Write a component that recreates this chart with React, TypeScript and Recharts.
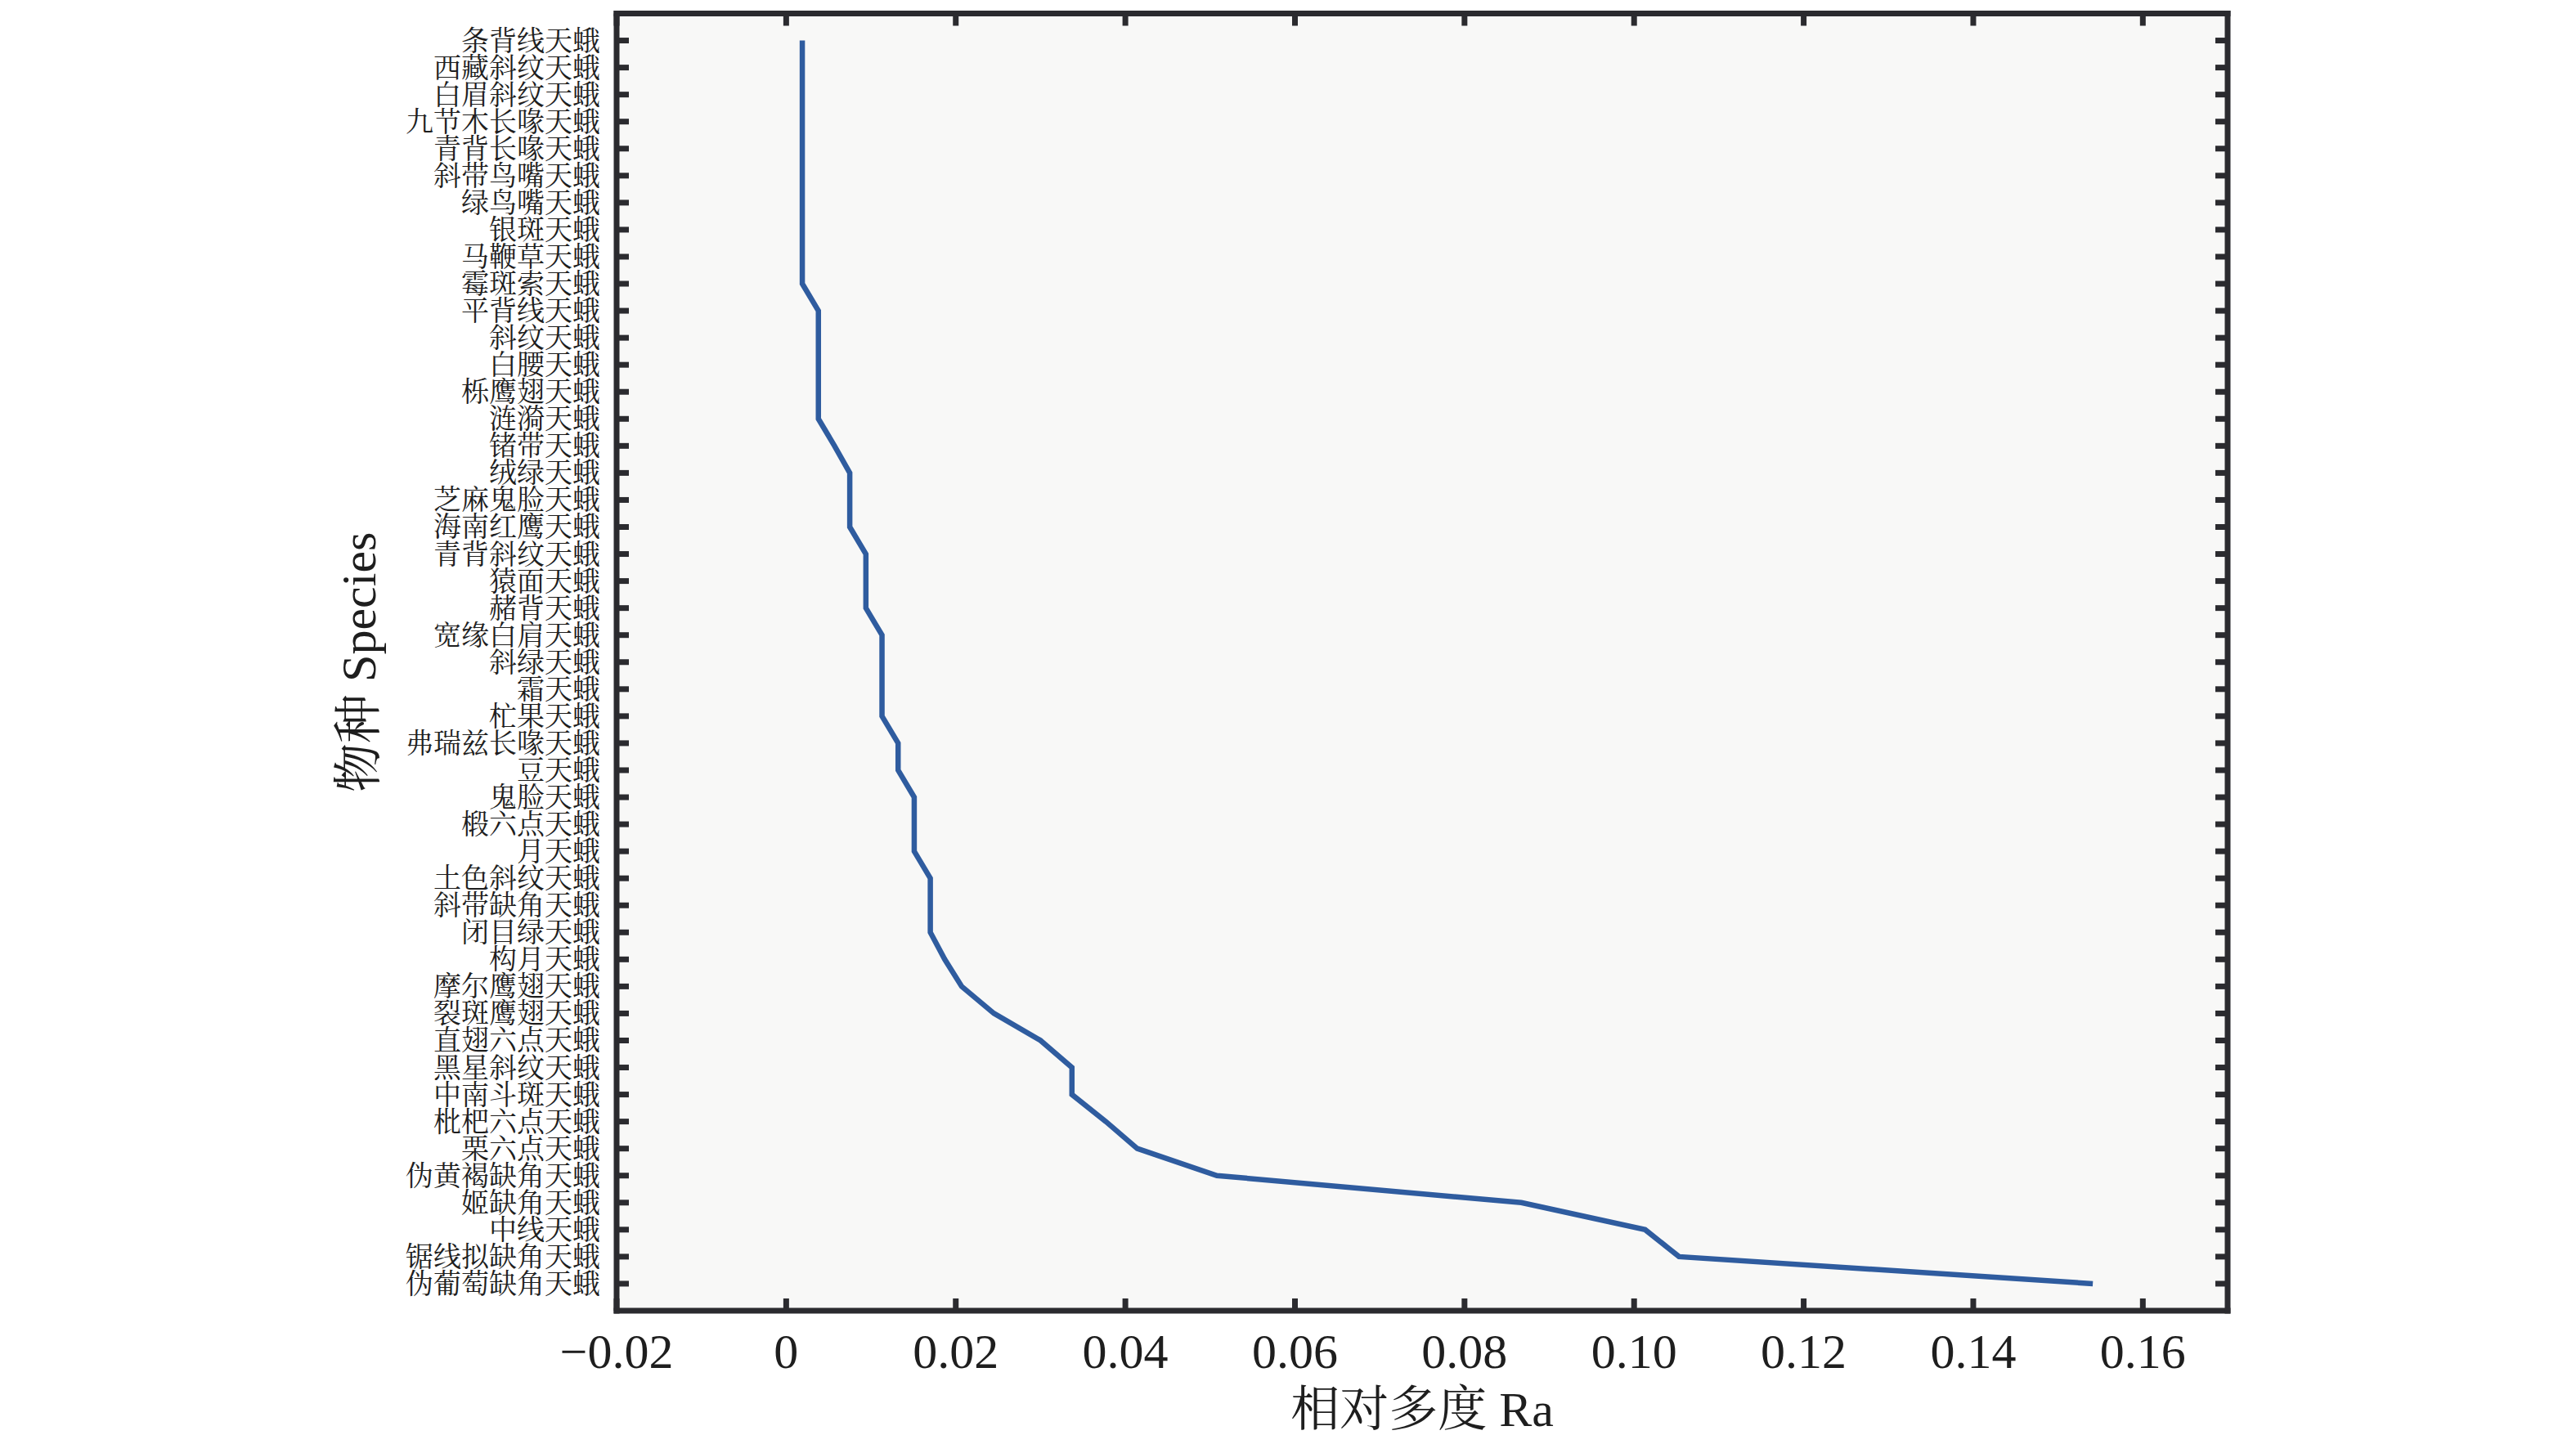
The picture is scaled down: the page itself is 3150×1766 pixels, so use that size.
import React from 'react';
import { LineChart, Line, XAxis, YAxis, CartesianGrid } from 'recharts';

const species: string[] = [
  '条背线天蛾', '西藏斜纹天蛾', '白眉斜纹天蛾', '九节木长喙天蛾', '青背长喙天蛾',
  '斜带鸟嘴天蛾', '绿鸟嘴天蛾', '银斑天蛾', '马鞭草天蛾', '霉斑索天蛾',
  '平背线天蛾', '斜纹天蛾', '白腰天蛾', '栎鹰翅天蛾', '涟漪天蛾',
  '锗带天蛾', '绒绿天蛾', '芝麻鬼脸天蛾', '海南红鹰天蛾', '青背斜纹天蛾',
  '猿面天蛾', '赭背天蛾', '宽缘白肩天蛾', '斜绿天蛾', '霜天蛾',
  '杧果天蛾', '弗瑞兹长喙天蛾', '豆天蛾', '鬼脸天蛾', '椴六点天蛾',
  '月天蛾', '土色斜纹天蛾', '斜带缺角天蛾', '闭目绿天蛾', '构月天蛾',
  '摩尔鹰翅天蛾', '裂斑鹰翅天蛾', '直翅六点天蛾', '黑星斜纹天蛾', '中南斗斑天蛾',
  '枇杷六点天蛾', '栗六点天蛾', '伪黄褐缺角天蛾', '姬缺角天蛾', '中线天蛾',
  '锯线拟缺角天蛾', '伪葡萄缺角天蛾',
];

const abundance: number[] = [
  0.0019, 0.0019, 0.0019, 0.0019, 0.0019, 0.0019, 0.0019, 0.0019, 0.0019, 0.0019,
  0.0038, 0.0038, 0.0038, 0.0038, 0.0038,
  0.0057,
  0.0075, 0.0075, 0.0075,
  0.0094, 0.0094, 0.0094,
  0.0113, 0.0113, 0.0113, 0.0113,
  0.0132, 0.0132,
  0.0151, 0.0151, 0.0151,
  0.0170, 0.0170, 0.0170,
  0.0187, 0.0207, 0.0245, 0.0300,
  0.0337, 0.0337,
  0.0377, 0.0414, 0.0508, 0.0867, 0.1013, 0.1053, 0.1541,
];

const xTicks: number[] = [-0.02, 0, 0.02, 0.04, 0.06, 0.08, 0.1, 0.12, 0.14, 0.16];
const xDomain: [number, number] = [-0.02, 0.17];
const yDomain: [number, number] = [0, 48];
const rankTicks: number[] = species.map((_, i) => i + 1);

const xTitle = '相对多度 Ra';
const yTitle = '物种 Species';

const data = species.map((name, i) => ({ rank: i + 1, name, value: abundance[i] }));

const FONT = "'Liberation Serif', 'Noto Serif CJK SC', 'Noto Sans CJK SC', serif";
const FRAME = '#2b2b2f';
const TEXT = '#1e1e1e';
const LINE = '#2f5c9f';
const TICK_LEN = 15;
const TICK_W = 7;

const CHART_W = 3150;
const CHART_H = 1766;
const MARGIN_TOP = 15.5;
const X_AXIS_H = 163;
const PLOT_TOP = MARGIN_TOP + 1;
const PLOT_BOTTOM = CHART_H - X_AXIS_H;

const fmtX = (v: number) => {
  if (Math.abs(v) < 1e-9) return '0';
  const s = Math.abs(v).toFixed(2);
  return v < 0 ? '\u2212' + s : s;
};

const fmtY = (v: number) => species[Math.round(v) - 1] ?? '';

const axisLineStyle = { stroke: FRAME, strokeWidth: TICK_W, strokeLinecap: 'square' as const };

const X_MARGIN = 27;
const Y_MARGIN = 20;

const inRank = (v: any) => typeof v === 'number' && v >= 1 && v <= species.length;
const inX = (v: any) => typeof v === 'number' && v >= xDomain[0] - 1e-9 && v <= xDomain[1] + 1e-9;
const inPlotY = (y: number) => Number.isFinite(y) && y >= PLOT_TOP - 2 && y <= PLOT_BOTTOM + 2;

const BottomTick = (props: any) => {
  const { x, y, payload } = props;
  if (!payload || !inX(payload.value)) return <g />;
  const axisY = Number(y) - X_MARGIN;
  const cx = Number(x);
  return (
    <g>
      <path d={`M${cx},${axisY}L${cx},${axisY - TICK_LEN}`} stroke={FRAME} strokeWidth={TICK_W} fill="none" />
      <text
        x={cx}
        y={Number(y)}
        dy={42.6}
        textAnchor="middle"
        fontSize={60}
        fill={TEXT}
        fontFamily={FONT}
      >
        {fmtX(payload.value)}
      </text>
    </g>
  );
};

const TopTick = (props: any) => {
  const { x, y, payload } = props;
  if (!payload || !inX(payload.value)) return <g />;
  const cx = Number(x);
  const cy = Number(y);
  return <path d={`M${cx},${cy}L${cx},${cy + TICK_LEN}`} stroke={FRAME} strokeWidth={TICK_W} fill="none" />;
};

const LeftTick = (props: any) => {
  const { x, y, payload } = props;
  const cx = Number(x);
  const cy = Number(y);
  if (!payload || !inRank(payload.value) || !inPlotY(cy)) return <g />;
  const axisX = cx + Y_MARGIN;
  return (
    <g>
      <path d={`M${axisX},${cy}L${axisX + TICK_LEN},${cy}`} stroke={FRAME} strokeWidth={TICK_W} fill="none" />
      <text
        x={cx}
        y={cy}
        dy={12}
        textAnchor="end"
        fontSize={34}
        fill={TEXT}
        fontFamily={FONT}
      >
        {fmtY(payload.value)}
      </text>
    </g>
  );
};

const RightTick = (props: any) => {
  const { x, y, payload } = props;
  const cx = Number(x);
  const cy = Number(y);
  if (!payload || !inRank(payload.value) || !inPlotY(cy)) return <g />;
  return <path d={`M${cx},${cy}L${cx - TICK_LEN},${cy}`} stroke={FRAME} strokeWidth={TICK_W} fill="none" />;
};

const YTitle = (props: any) => {
  const vb = props.viewBox || {};
  const x = (vb.x ?? 0) + (vb.width ?? 754) - 295;
  const y = (vb.y ?? 0) + (vb.height ?? 0) / 2;
  return (
    <text
      x={x}
      y={y}
      transform={`rotate(-90 ${x} ${y})`}
      textAnchor="middle"
      fontSize={60}
      fill={TEXT}
      fontFamily={FONT}
    >
      {yTitle}
    </text>
  );
};

export default function App() {
  return (
    <div style={{ position: 'absolute', left: 0, top: 0, width: CHART_W, height: CHART_H, background: '#ffffff' }}>
      <LineChart
        width={CHART_W}
        height={CHART_H}
        data={data}
        layout="vertical"
        margin={{ top: MARGIN_TOP, right: 425, bottom: 0, left: 0 }}
      >
        <CartesianGrid
          xAxisId="b"
          yAxisId="l"
          horizontal={false}
          vertical={false}
          fill="#f8f8f7"
          stroke="none"
        />
        <XAxis
          xAxisId="b"
          orientation="bottom"
          type="number"
          domain={xDomain}
          ticks={xTicks}
          allowDataOverflow
          interval={0}
          height={X_AXIS_H}
          tickSize={0}
          tickMargin={X_MARGIN}
          axisLine={axisLineStyle}
          tickLine={false}
          tick={BottomTick}
          label={{
            value: xTitle,
            position: 'insideBottom',
            offset: 22,
            fontSize: 60,
            fill: TEXT,
            fontFamily: FONT,
          }}
        />
        <XAxis
          xAxisId="t"
          orientation="top"
          type="number"
          domain={xDomain}
          ticks={xTicks}
          allowDataOverflow
          interval={0}
          height={1}
          tickSize={0}
          tickMargin={0}
          axisLine={axisLineStyle}
          tickLine={false}
          tick={TopTick}
        />
        <YAxis
          yAxisId="l"
          orientation="left"
          type="number"
          dataKey="rank"
          domain={yDomain}
          ticks={rankTicks}
          allowDataOverflow
          interval={0}
          width={754}
          tickSize={0}
          tickMargin={Y_MARGIN}
          axisLine={axisLineStyle}
          tickLine={false}
          tick={LeftTick}
          label={{ content: YTitle }}
        />
        <YAxis
          yAxisId="r"
          orientation="right"
          type="number"
          dataKey="rank"
          domain={yDomain}
          ticks={rankTicks}
          allowDataOverflow
          interval={0}
          width={1}
          tickSize={0}
          tickMargin={0}
          axisLine={axisLineStyle}
          tickLine={false}
          tick={RightTick}
        />
        <Line
          xAxisId="b"
          yAxisId="l"
          type="linear"
          dataKey="value"
          stroke={LINE}
          strokeWidth={6.5}
          dot={false}
          activeDot={false}
          isAnimationActive={false}
        />
      </LineChart>
    </div>
  );
}
